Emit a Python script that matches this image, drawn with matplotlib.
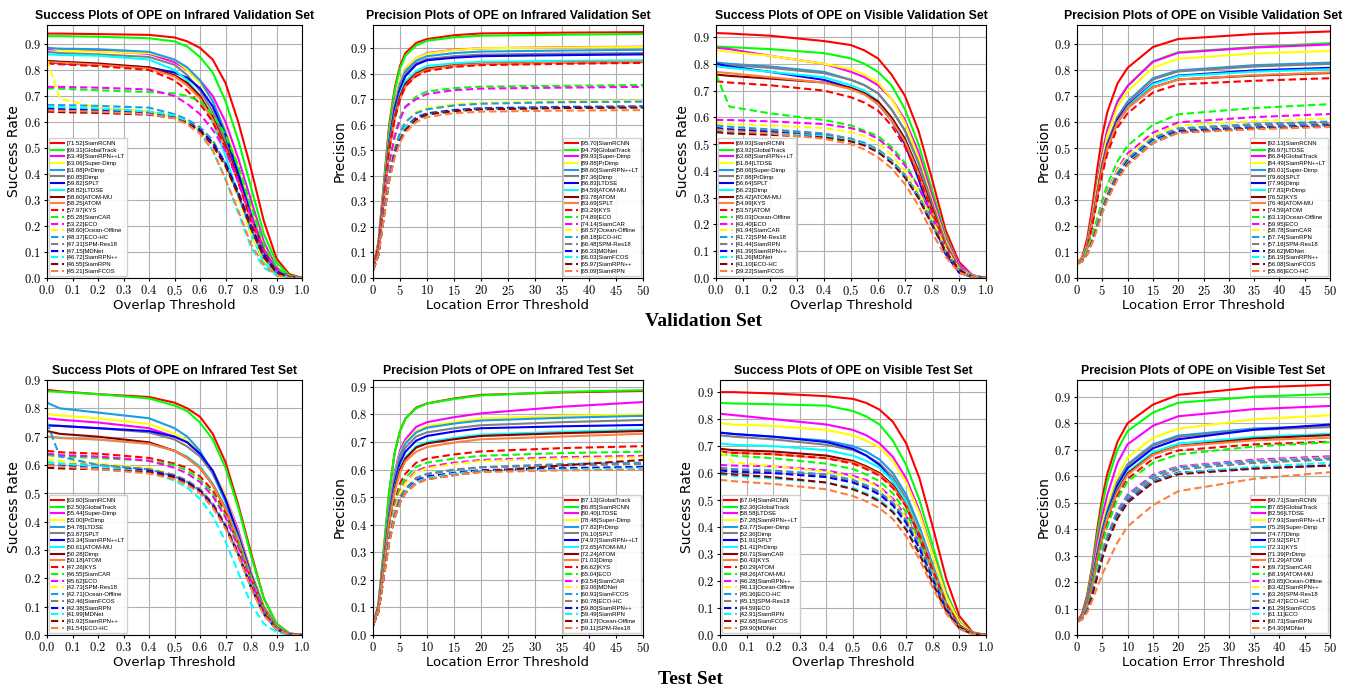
import matplotlib
matplotlib.use('Agg')
import matplotlib.pyplot as plt
import matplotlib.ticker as ticker

plt.rcParams['mathtext.fontset'] = 'cm'

SUCC_X = [0, .05, .2, .4, .5, .55, .6, .65, .7, .75, .8, .85, .9, .95, 1.0]
PREC_X = [0, 1, 2, 3, 4, 5, 6, 8, 10, 15, 20, 35, 50]

COLORS = ['#ff0000', '#00ff00', '#ff00ff', '#ffff00', '#1e9be6',
          '#808080', '#0000ff', '#00ffff', '#8b0000', '#ff7f3f']

# ---------------- Infrared validation, success ----------------
IRV_S_NAMES = ['SiamRCNN', 'GlobalTrack', 'SiamRPN++LT', 'Super-Dimp', 'PrDimp', 'Dimp', 'SPLT',
               'LTDSE', 'ATOM-MU', 'ATOM', 'KYS', 'SiamCAR', 'ECO', 'Ocean-Offline', 'ECO-HC',
               'SPM-Res18', 'MDNet', 'SiamRPN++', 'SiamRPN', 'SiamFCOS']
IRV_S_AUC = [71.52, 69.31, 63.49, 63.06, 61.88, 60.85, 59.82, 58.82, 58.60, 58.25, 57.97, 55.28,
             53.22, 48.60, 48.37, 47.31, 47.15, 46.72, 46.55, 45.21]
IRV_S_VALS = [
    [.94, .94, .938, .935, .925, .91, .885, .84, .75, .60, .42, .22, .075, .015, 0],
    [.93, .93, .928, .922, .91, .89, .85, .79, .68, .53, .35, .17, .06, .01, 0],
    [.88, .878, .875, .862, .83, .80, .76, .70, .60, .46, .30, .14, .04, .005, 0],
    [.89, .875, .87, .865, .84, .80, .75, .68, .57, .43, .27, .12, .03, .004, 0],
    [.885, .882, .88, .87, .84, .81, .76, .68, .56, .41, .25, .11, .03, .004, 0],
    [.87, .865, .86, .85, .82, .78, .72, .64, .53, .39, .24, .10, .03, .003, 0],
    [.83, .825, .82, .81, .79, .77, .73, .66, .55, .40, .24, .10, .03, .003, 0],
    [.86, .858, .855, .84, .80, .76, .70, .60, .47, .32, .17, .06, .015, .002, 0],
    [.835, .832, .825, .81, .78, .75, .70, .62, .51, .38, .23, .10, .03, .003, 0],
    [.83, .828, .82, .805, .775, .74, .69, .61, .50, .37, .22, .09, .025, .003, 0],
    [.825, .822, .815, .80, .76, .72, .67, .60, .50, .37, .22, .10, .03, .003, 0],
    [.73, .728, .722, .715, .71, .70, .68, .63, .55, .43, .28, .13, .04, .005, 0],
    [.735, .735, .732, .725, .70, .67, .63, .57, .49, .37, .24, .11, .03, .003, 0],
    [.84, .69, .655, .64, .62, .60, .57, .52, .43, .31, .17, .07, .02, .002, 0],
    [.665, .665, .662, .655, .63, .61, .58, .53, .44, .32, .19, .08, .02, .002, 0],
    [.655, .653, .65, .64, .625, .60, .57, .52, .44, .33, .20, .09, .025, .003, 0],
    [.65, .648, .645, .635, .62, .60, .57, .52, .44, .33, .20, .09, .025, .003, 0],
    [.66, .658, .652, .64, .625, .60, .56, .49, .38, .25, .12, .04, .01, .001, 0],
    [.64, .638, .635, .628, .615, .595, .565, .51, .43, .32, .19, .08, .02, .002, 0],
    [.645, .643, .64, .63, .615, .59, .555, .49, .38, .26, .13, .05, .01, .001, 0],
]

# ---------------- Infrared validation, precision ----------------
IRV_P_NAMES = ['SiamRCNN', 'GlobalTrack', 'Super-Dimp', 'PrDimp', 'SiamRPN++LT', 'Dimp', 'LTDSE',
               'ATOM-MU', 'ATOM', 'SPLT', 'KYS', 'ECO', 'SiamCAR', 'Ocean-Offline', 'ECO-HC',
               'SPM-Res18', 'MDNet', 'SiamFCOS', 'SiamRPN++', 'SiamRPN']
IRV_P_SCORE = [95.70, 94.79, 89.93, 89.88, 88.60, 87.36, 86.83, 84.59, 83.78, 83.69, 83.29, 74.89,
               74.14, 68.57, 68.18, 66.48, 66.33, 66.03, 65.97, 65.09]
IRV_P_VALS = [
    [.04, .14, .37, .60, .74, .83, .88, .92, .935, .95, .957, .96, .962],
    [.04, .13, .36, .59, .73, .82, .87, .91, .928, .942, .948, .952, .955],
    [.04, .13, .34, .56, .69, .77, .82, .86, .88, .893, .899, .903, .905],
    [.04, .13, .34, .55, .68, .77, .82, .86, .878, .892, .899, .902, .904],
    [.035, .12, .33, .54, .67, .76, .81, .85, .868, .88, .886, .89, .893],
    [.035, .12, .33, .54, .67, .75, .80, .84, .857, .868, .874, .878, .88],
    [.035, .12, .32, .53, .66, .74, .79, .835, .852, .862, .868, .872, .875],
    [.035, .12, .32, .52, .64, .72, .77, .81, .83, .84, .846, .85, .852],
    [.035, .12, .31, .51, .63, .71, .76, .80, .82, .832, .838, .842, .845],
    [.035, .11, .30, .50, .62, .70, .75, .795, .815, .83, .837, .842, .846],
    [.035, .11, .30, .50, .62, .70, .75, .79, .81, .826, .833, .838, .842],
    [.03, .10, .27, .45, .56, .63, .67, .71, .73, .743, .749, .752, .755],
    [.03, .10, .27, .44, .55, .62, .67, .70, .72, .735, .741, .745, .748],
    [.03, .09, .25, .41, .51, .57, .61, .65, .665, .68, .686, .692, .695],
    [.03, .09, .25, .40, .50, .57, .61, .645, .66, .675, .682, .688, .69],
    [.03, .09, .24, .39, .49, .55, .59, .63, .645, .658, .665, .67, .673],
    [.03, .09, .24, .39, .49, .55, .59, .625, .643, .656, .663, .668, .67],
    [.03, .09, .24, .39, .48, .55, .59, .62, .64, .653, .66, .665, .668],
    [.03, .09, .24, .38, .48, .54, .58, .62, .64, .653, .66, .665, .667],
    [.03, .09, .23, .38, .47, .53, .57, .61, .63, .645, .651, .655, .657],
]

# ---------------- Visible validation, success ----------------
VIV_S_NAMES = ['SiamRCNN', 'GlobalTrack', 'SiamRPN++LT', 'LTDSE', 'Super-Dimp', 'PrDimp', 'SPLT',
               'Dimp', 'ATOM-MU', 'KYS', 'ATOM', 'Ocean-Offline', 'ECO', 'SiamCAR', 'SPM-Res18',
               'SiamRPN', 'SiamRPN++', 'MDNet', 'ECO-HC', 'SiamFCOS']
VIV_S_AUC = [69.93, 63.92, 62.68, 61.84, 58.06, 57.88, 56.64, 56.23, 55.42, 54.99, 53.57, 45.03,
             43.40, 41.94, 41.72, 41.44, 41.39, 41.26, 41.10, 39.22]
VIV_S_VALS = [
    [.915, .913, .905, .885, .87, .85, .82, .76, .68, .55, .37, .18, .06, .01, 0],
    [.865, .862, .855, .84, .82, .80, .77, .72, .63, .50, .33, .16, .05, .01, 0],
    [.86, .855, .83, .80, .77, .75, .72, .67, .59, .47, .31, .15, .05, .01, 0],
    [.85, .845, .83, .80, .78, .76, .73, .67, .58, .45, .29, .14, .04, .008, 0],
    [.805, .80, .79, .77, .74, .72, .69, .63, .55, .43, .28, .13, .04, .006, 0],
    [.80, .795, .785, .765, .74, .72, .69, .63, .55, .43, .28, .13, .04, .006, 0],
    [.80, .79, .77, .74, .71, .69, .65, .59, .50, .37, .22, .09, .02, .003, 0],
    [.79, .785, .77, .75, .72, .70, .66, .60, .52, .40, .25, .12, .035, .005, 0],
    [.76, .755, .745, .73, .71, .69, .66, .60, .52, .40, .26, .12, .035, .005, 0],
    [.77, .765, .75, .73, .705, .685, .65, .59, .51, .39, .25, .12, .035, .005, 0],
    [.735, .73, .72, .70, .675, .655, .625, .57, .49, .38, .25, .12, .035, .005, 0],
    [.76, .64, .615, .59, .57, .55, .53, .49, .43, .34, .23, .11, .035, .005, 0],
    [.59, .59, .585, .575, .56, .545, .52, .48, .42, .34, .23, .11, .035, .005, 0],
    [.58, .575, .57, .56, .545, .53, .505, .46, .40, .32, .22, .11, .035, .005, 0],
    [.57, .565, .555, .54, .52, .505, .48, .44, .38, .30, .20, .10, .03, .004, 0],
    [.56, .555, .55, .535, .52, .50, .48, .44, .385, .31, .21, .10, .03, .004, 0],
    [.56, .555, .545, .53, .515, .50, .475, .435, .38, .30, .20, .10, .03, .004, 0],
    [.55, .545, .54, .53, .515, .50, .475, .435, .38, .305, .205, .10, .03, .004, 0],
    [.545, .54, .535, .525, .51, .495, .47, .43, .375, .30, .20, .10, .03, .004, 0],
    [.555, .55, .54, .52, .50, .48, .45, .41, .35, .27, .17, .08, .02, .003, 0],
]

# ---------------- Visible validation, precision ----------------
VIV_P_NAMES = ['SiamRCNN', 'LTDSE', 'GlobalTrack', 'SiamRPN++LT', 'Super-Dimp', 'SPLT', 'Dimp',
               'PrDimp', 'KYS', 'ATOM-MU', 'ATOM', 'Ocean-Offline', 'ECO', 'SiamCAR', 'SiamRPN',
               'SPM-Res18', 'MDNet', 'SiamRPN++', 'SiamFCOS', 'ECO-HC']
VIV_P_SCORE = [92.13, 86.97, 86.84, 84.49, 80.01, 79.60, 77.96, 77.83, 76.52, 76.46, 74.59, 63.13,
               59.95, 58.78, 57.74, 57.16, 56.62, 56.19, 56.08, 55.86]
VIV_P_VALS = [
    [.055, .08, .15, .27, .42, .55, .64, .75, .81, .89, .921, .94, .95],
    [.055, .075, .13, .24, .37, .48, .57, .68, .74, .835, .870, .89, .905],
    [.055, .075, .13, .24, .36, .48, .57, .68, .74, .833, .868, .888, .90],
    [.055, .075, .125, .23, .35, .46, .55, .66, .72, .81, .845, .865, .875],
    [.055, .07, .12, .22, .33, .44, .52, .62, .68, .77, .80, .82, .83],
    [.055, .07, .12, .22, .33, .44, .52, .62, .675, .765, .796, .815, .825],
    [.055, .07, .115, .21, .32, .43, .51, .61, .665, .75, .78, .80, .81],
    [.055, .07, .115, .21, .32, .42, .50, .60, .66, .747, .778, .795, .805],
    [.055, .07, .115, .21, .32, .42, .50, .60, .655, .735, .765, .78, .79],
    [.055, .07, .115, .21, .315, .42, .50, .60, .655, .734, .765, .782, .792],
    [.055, .07, .11, .20, .30, .40, .48, .58, .635, .715, .746, .76, .77],
    [.055, .07, .11, .165, .23, .30, .36, .45, .51, .59, .631, .655, .67],
    [.055, .065, .10, .15, .21, .28, .335, .42, .48, .56, .60, .62, .632],
    [.055, .065, .10, .15, .21, .275, .33, .415, .47, .55, .588, .605, .615],
    [.055, .065, .095, .145, .205, .27, .32, .405, .46, .54, .577, .593, .603],
    [.055, .065, .095, .145, .205, .265, .32, .40, .455, .535, .572, .588, .598],
    [.055, .065, .095, .14, .20, .26, .315, .395, .45, .53, .566, .58, .59],
    [.055, .065, .095, .14, .20, .26, .31, .39, .445, .525, .562, .577, .587],
    [.055, .065, .09, .14, .195, .255, .305, .385, .44, .52, .561, .576, .585],
    [.055, .065, .09, .135, .19, .25, .30, .38, .435, .52, .559, .573, .582],
]

# ---------------- Infrared test, success ----------------
IRT_S_NAMES = ['SiamRCNN', 'GlobalTrack', 'Super-Dimp', 'PrDimp', 'LTDSE', 'SPLT', 'SiamRPN++LT',
               'ATOM-MU', 'Dimp', 'ATOM', 'KYS', 'SiamCAR', 'ECO', 'SPM-Res18', 'Ocean-Offline',
               'SiamFCOS', 'SiamRPN', 'MDNet', 'SiamRPN++', 'ECO-HC']
IRT_S_AUC = [63.60, 62.50, 55.44, 55.00, 54.78, 53.87, 53.34, 50.61, 50.28, 50.18, 47.26, 46.55,
             45.62, 42.73, 42.71, 42.46, 42.38, 41.99, 41.92, 41.54]
IRT_S_VALS = [
    [.865, .86, .85, .84, .82, .80, .77, .71, .61, .46, .29, .13, .04, .006, 0],
    [.86, .858, .85, .835, .81, .79, .75, .69, .59, .45, .28, .13, .04, .006, 0],
    [.765, .76, .75, .73, .70, .68, .64, .58, .49, .37, .22, .10, .03, .004, 0],
    [.78, .775, .765, .745, .71, .685, .645, .58, .49, .36, .22, .10, .03, .004, 0],
    [.82, .80, .785, .765, .73, .70, .65, .57, .47, .34, .20, .08, .02, .003, 0],
    [.74, .738, .73, .715, .69, .665, .63, .57, .48, .36, .22, .10, .03, .004, 0],
    [.74, .738, .73, .72, .70, .68, .64, .58, .48, .35, .21, .09, .025, .003, 0],
    [.70, .697, .69, .675, .65, .63, .595, .535, .45, .34, .20, .09, .025, .003, 0],
    [.72, .71, .70, .68, .65, .625, .59, .53, .445, .33, .20, .09, .025, .003, 0],
    [.70, .695, .69, .675, .65, .625, .59, .53, .445, .335, .205, .09, .025, .003, 0],
    [.65, .645, .64, .625, .605, .59, .56, .51, .43, .32, .20, .09, .025, .003, 0],
    [.635, .63, .625, .615, .60, .58, .55, .50, .42, .32, .20, .09, .025, .003, 0],
    [.64, .635, .63, .615, .59, .57, .54, .49, .415, .31, .19, .085, .022, .003, 0],
    [.62, .615, .605, .59, .565, .545, .515, .465, .39, .29, .17, .075, .02, .002, 0],
    [.75, .63, .60, .585, .56, .54, .51, .46, .385, .285, .17, .075, .02, .002, 0],
    [.61, .605, .60, .585, .565, .545, .515, .465, .39, .29, .17, .075, .02, .002, 0],
    [.60, .598, .593, .58, .56, .54, .51, .46, .385, .285, .17, .075, .02, .002, 0],
    [.61, .605, .595, .575, .545, .52, .48, .42, .33, .22, .11, .04, .01, .001, 0],
    [.59, .588, .585, .575, .555, .535, .505, .455, .38, .285, .17, .075, .02, .002, 0],
    [.60, .595, .585, .57, .55, .53, .50, .45, .375, .28, .165, .07, .02, .002, 0],
]

# ---------------- Infrared test, precision ----------------
IRT_P_NAMES = ['GlobalTrack', 'SiamRCNN', 'LTDSE', 'Super-Dimp', 'PrDimp', 'SPLT', 'SiamRPN++LT',
               'ATOM-MU', 'ATOM', 'Dimp', 'KYS', 'ECO', 'SiamCAR', 'MDNet', 'SiamFCOS', 'ECO-HC',
               'SiamRPN++', 'SiamRPN', 'Ocean-Offline', 'SPM-Res18']
IRT_P_SCORE = [87.13, 86.85, 80.40, 78.48, 77.82, 76.10, 74.97, 72.65, 72.24, 71.03, 66.62, 65.04,
               63.54, 63.06, 60.93, 60.78, 59.80, 59.49, 59.17, 59.11]
IRT_P_VALS = [
    [.035, .11, .31, .52, .66, .74, .785, .825, .84, .858, .871, .88, .885],
    [.035, .11, .31, .52, .66, .74, .785, .822, .84, .856, .869, .882, .888],
    [.035, .10, .28, .46, .59, .67, .71, .755, .772, .79, .804, .828, .845],
    [.035, .10, .27, .45, .58, .66, .70, .74, .758, .773, .785, .795, .80],
    [.035, .10, .27, .45, .575, .655, .695, .735, .752, .767, .778, .788, .795],
    [.035, .10, .27, .44, .56, .64, .68, .72, .735, .75, .761, .772, .78],
    [.035, .10, .26, .43, .55, .625, .665, .705, .722, .738, .75, .757, .762],
    [.035, .095, .25, .42, .535, .605, .645, .685, .70, .715, .727, .737, .745],
    [.035, .095, .25, .41, .53, .60, .64, .68, .695, .71, .722, .732, .74],
    [.035, .095, .25, .41, .52, .59, .63, .665, .682, .698, .71, .72, .73],
    [.035, .09, .24, .385, .485, .55, .585, .625, .64, .655, .666, .678, .685],
    [.035, .09, .235, .375, .47, .535, .57, .61, .625, .64, .65, .66, .665],
    [.035, .09, .23, .365, .46, .52, .555, .595, .61, .625, .635, .645, .65],
    [.035, .09, .225, .36, .455, .515, .55, .59, .605, .62, .631, .64, .645],
    [.035, .085, .22, .35, .44, .50, .53, .57, .585, .60, .609, .62, .625],
    [.035, .085, .22, .35, .44, .50, .53, .568, .583, .598, .608, .615, .62],
    [.035, .085, .215, .345, .43, .49, .52, .56, .575, .588, .598, .605, .61],
    [.035, .085, .215, .34, .43, .485, .52, .555, .57, .585, .595, .60, .605],
    [.035, .085, .21, .335, .425, .48, .515, .55, .565, .58, .592, .615, .635],
    [.035, .085, .21, .335, .425, .48, .515, .55, .565, .58, .591, .597, .60],
]

# ---------------- Visible test, success ----------------
VIT_S_NAMES = ['SiamRCNN', 'GlobalTrack', 'LTDSE', 'SiamRPN++LT', 'Super-Dimp', 'Dimp', 'SPLT',
               'PrDimp', 'SiamCAR', 'KYS', 'ATOM', 'ATOM-MU', 'SiamRPN++', 'Ocean-Offline', 'ECO-HC',
               'SPM-Res18', 'ECO', 'SiamRPN', 'SiamFCOS', 'MDNet']
VIT_S_AUC = [67.04, 62.36, 58.58, 57.28, 53.77, 52.36, 51.91, 51.41, 50.71, 50.43, 50.29, 48.26,
             46.28, 46.13, 45.36, 45.15, 44.59, 42.91, 42.68, 39.90]
VIT_S_VALS = [
    [.90, .90, .895, .885, .875, .86, .835, .79, .71, .58, .40, .21, .07, .01, 0],
    [.86, .858, .855, .85, .83, .81, .78, .72, .63, .50, .33, .16, .05, .008, 0],
    [.82, .815, .80, .78, .76, .74, .71, .66, .58, .46, .30, .15, .045, .006, 0],
    [.785, .78, .775, .76, .74, .72, .695, .645, .565, .45, .295, .145, .045, .006, 0],
    [.75, .745, .735, .72, .70, .68, .65, .60, .52, .40, .26, .12, .035, .005, 0],
    [.74, .735, .725, .705, .685, .665, .635, .585, .505, .39, .25, .12, .035, .005, 0],
    [.75, .745, .735, .715, .69, .665, .63, .57, .48, .36, .22, .10, .03, .004, 0],
    [.71, .705, .70, .685, .665, .645, .62, .57, .495, .38, .245, .12, .035, .005, 0],
    [.69, .685, .68, .665, .645, .625, .60, .555, .48, .37, .24, .115, .035, .005, 0],
    [.68, .675, .67, .655, .64, .62, .595, .55, .48, .37, .24, .115, .035, .005, 0],
    [.68, .675, .67, .655, .635, .615, .59, .545, .475, .37, .24, .115, .035, .005, 0],
    [.67, .665, .655, .635, .615, .595, .57, .525, .455, .35, .225, .105, .03, .004, 0],
    [.63, .628, .625, .61, .59, .575, .55, .505, .44, .34, .22, .10, .03, .004, 0],
    [.68, .64, .625, .605, .585, .57, .545, .50, .435, .335, .215, .10, .03, .004, 0],
    [.62, .615, .61, .595, .575, .555, .53, .49, .425, .33, .215, .10, .03, .004, 0],
    [.615, .61, .605, .59, .57, .55, .525, .485, .42, .325, .21, .10, .03, .004, 0],
    [.61, .605, .60, .585, .565, .545, .52, .48, .415, .32, .205, .095, .028, .004, 0],
    [.595, .59, .58, .565, .545, .525, .50, .46, .395, .305, .195, .09, .025, .003, 0],
    [.60, .595, .585, .565, .54, .52, .495, .455, .39, .30, .19, .09, .025, .003, 0],
    [.575, .57, .56, .54, .515, .495, .47, .43, .365, .28, .175, .08, .022, .003, 0],
]

# ---------------- Visible test, precision ----------------
VIT_P_NAMES = ['SiamRCNN', 'GlobalTrack', 'LTDSE', 'SiamRPN++LT', 'Super-Dimp', 'Dimp', 'SPLT',
               'KYS', 'PrDimp', 'ATOM', 'SiamCAR', 'ATOM-MU', 'Ocean-Offline', 'SiamRPN++',
               'SPM-Res18', 'ECO-HC', 'SiamFCOS', 'ECO', 'SiamRPN', 'MDNet']
VIT_P_SCORE = [90.71, 87.65, 82.56, 77.93, 75.29, 74.77, 73.92, 72.31, 71.39, 71.29, 69.73, 68.19,
               63.65, 63.42, 63.26, 62.47, 61.29, 61.11, 60.73, 54.30]
VIT_P_VALS = [
    [.05, .08, .15, .26, .40, .52, .61, .73, .80, .87, .907, .935, .945],
    [.05, .075, .14, .25, .38, .49, .58, .70, .77, .84, .877, .90, .91],
    [.05, .075, .13, .23, .35, .45, .53, .65, .72, .79, .826, .853, .865],
    [.05, .07, .12, .21, .32, .42, .49, .60, .67, .745, .779, .815, .83],
    [.05, .07, .12, .21, .31, .40, .47, .58, .645, .72, .753, .78, .79],
    [.05, .07, .12, .205, .305, .395, .465, .575, .64, .715, .748, .775, .785],
    [.05, .07, .115, .20, .30, .39, .46, .565, .63, .705, .739, .775, .795],
    [.05, .07, .115, .195, .29, .38, .45, .55, .615, .69, .723, .748, .76],
    [.05, .07, .11, .19, .285, .375, .44, .545, .61, .682, .714, .742, .755],
    [.05, .07, .11, .19, .285, .37, .44, .54, .605, .68, .713, .735, .745],
    [.05, .065, .105, .18, .27, .355, .42, .525, .59, .665, .697, .72, .73],
    [.05, .065, .105, .175, .265, .345, .41, .515, .58, .65, .682, .712, .728],
    [.05, .065, .10, .16, .24, .315, .375, .47, .53, .605, .637, .662, .675],
    [.05, .065, .10, .16, .24, .31, .37, .465, .525, .60, .634, .658, .67],
    [.05, .065, .10, .16, .235, .31, .37, .465, .525, .60, .633, .657, .668],
    [.05, .065, .095, .155, .23, .30, .36, .455, .515, .59, .625, .65, .663],
    [.05, .06, .095, .15, .225, .295, .355, .45, .505, .58, .613, .63, .64],
    [.05, .06, .095, .15, .225, .295, .355, .445, .50, .578, .611, .635, .65],
    [.05, .06, .09, .15, .22, .29, .35, .44, .50, .575, .607, .628, .64],
    [.05, .06, .085, .13, .18, .23, .27, .35, .41, .49, .543, .59, .615],
]

W, H = 1351, 688


def rect(x0, x1, y0, y1):
    # pixel box (top-left origin) -> figure fraction
    return [x0 / W, 1 - y1 / H, (x1 - x0) / W, (y1 - y0) / H]


def draw(ax, title, kind, names, scores, vals, ylim):
    xs = SUCC_X if kind == 'success' else PREC_X
    for i, (n, s, v) in enumerate(zip(names, scores, vals)):
        style = dict(color=COLORS[i % 10], lw=1.5)
        if i >= 10:
            style['dashes'] = (3.5, 1.8)
        ax.plot(xs, v, label='[%.2f]%s' % (s, n), **style)

    if kind == 'success':
        ax.set_xlim(0, 1)
        ax.xaxis.set_major_locator(ticker.MultipleLocator(0.1))
        ax.xaxis.set_major_formatter(ticker.FuncFormatter(lambda v, p: r'$%.1f$' % v))
        ax.set_xlabel('Overlap Threshold', fontsize=9.5, labelpad=1)
        ax.set_ylabel('Success Rate', fontsize=10, labelpad=2)
        loc = 'lower left'
    else:
        ax.set_xlim(0, 50)
        ax.xaxis.set_major_locator(ticker.MultipleLocator(5))
        ax.xaxis.set_major_formatter(ticker.FuncFormatter(lambda v, p: r'$%d$' % round(v)))
        ax.set_xlabel('Location Error Threshold', fontsize=9.5, labelpad=1)
        ax.set_ylabel('Precision', fontsize=10, labelpad=2)
        loc = 'lower right'
    ax.set_ylim(*ylim)
    ax.yaxis.set_major_locator(ticker.MultipleLocator(0.1))
    ax.yaxis.set_major_formatter(ticker.FuncFormatter(lambda v, p: r'$%.1f$' % v))
    ax.tick_params(labelsize=9, length=2, pad=2)
    ax.grid(True, color='#b0b0b0', lw=0.8)
    ax.set_axisbelow(True)
    ax.set_title(title, fontsize=8.8, fontweight='bold', fontfamily='Liberation Sans', pad=4)
    ax.legend(loc=loc, prop={'family': 'Liberation Sans', 'size': 4.3}, labelspacing=0.26,
              handlelength=2.1, borderpad=0.4, handletextpad=0.5, borderaxespad=0.3,
              fancybox=False, edgecolor='#cccccc', framealpha=0.9)


fig = plt.figure(figsize=(W / 100, H / 100), dpi=100)

panels = [
    ((47, 302, 25, 278), 'Success Plots of OPE on Infrared Validation Set', 'success',
     IRV_S_NAMES, IRV_S_AUC, IRV_S_VALS, (0, 0.973)),
    ((373, 643, 25, 278), 'Precision Plots of OPE on Infrared Validation Set', 'precision',
     IRV_P_NAMES, IRV_P_SCORE, IRV_P_VALS, (0, 0.99)),
    ((716, 986, 25, 278), 'Success Plots of OPE on Visible Validation Set', 'success',
     VIV_S_NAMES, VIV_S_AUC, VIV_S_VALS, (0, 0.945)),
    ((1077, 1330, 25, 278), 'Precision Plots of OPE on Visible Validation Set', 'precision',
     VIV_P_NAMES, VIV_P_SCORE, VIV_P_VALS, (0, 0.975)),
    ((47, 302, 380, 635), 'Success Plots of OPE on Infrared Test Set', 'success',
     IRT_S_NAMES, IRT_S_AUC, IRT_S_VALS, (0, 0.9)),
    ((373, 643, 380, 635), 'Precision Plots of OPE on Infrared Test Set', 'precision',
     IRT_P_NAMES, IRT_P_SCORE, IRT_P_VALS, (0, 0.925)),
    ((720, 986, 380, 635), 'Success Plots of OPE on Visible Test Set', 'success',
     VIT_S_NAMES, VIT_S_AUC, VIT_S_VALS, (0, 0.945)),
    ((1077, 1330, 380, 635), 'Precision Plots of OPE on Visible Test Set', 'precision',
     VIT_P_NAMES, VIT_P_SCORE, VIT_P_VALS, (0, 0.963)),
]

for box, title, kind, names, scores, vals, ylim in panels:
    ax = fig.add_axes(rect(*box))
    draw(ax, title, kind, names, scores, vals, ylim)

fig.text(704 / W, 1 - 321 / H, 'Validation Set', ha='center', va='center',
         fontfamily='Liberation Serif', fontweight='bold', fontsize=14)
fig.text(690 / W, 1 - 680 / H, 'Test Set', ha='center', va='center',
         fontfamily='Liberation Serif', fontweight='bold', fontsize=14)

fig.savefig('out.png', dpi=100)
